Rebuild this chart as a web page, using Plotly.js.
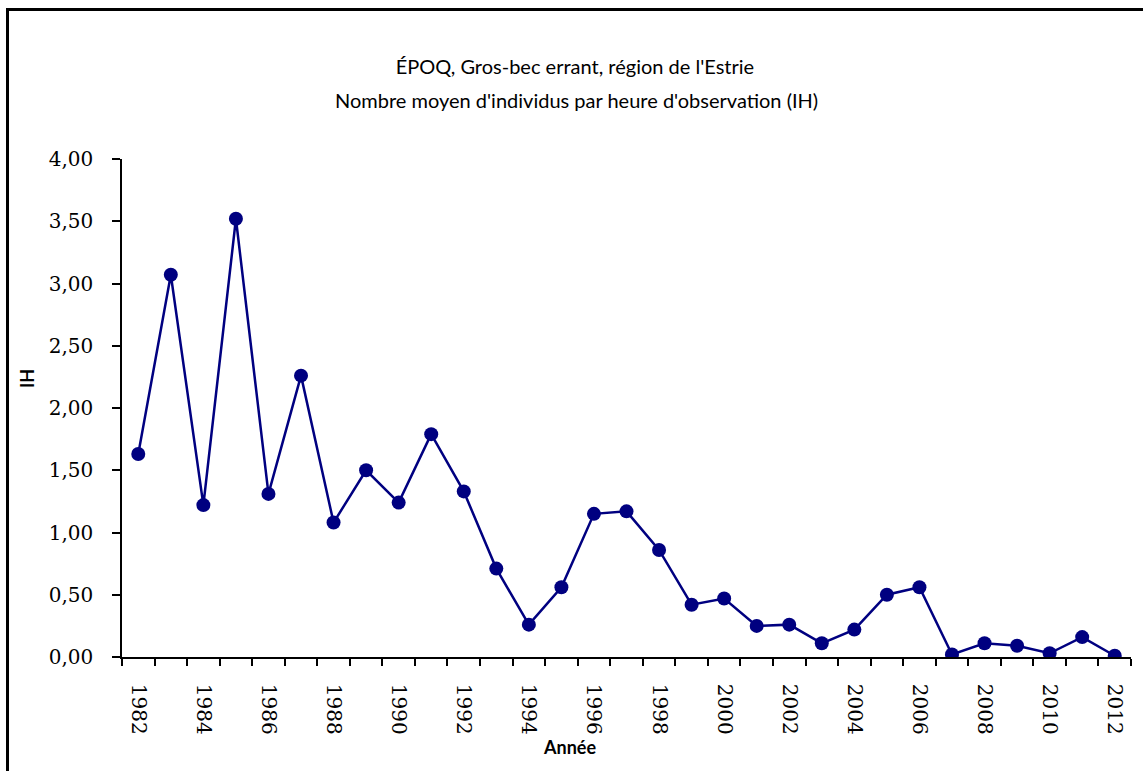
<!DOCTYPE html>
<html>
<head>
<meta charset="utf-8">
<script src="https://cdn.plot.ly/plotly-3.0.1.min.js"></script>
<style>
  html, body { margin: 0; padding: 0; background: #fff; }
  #wrap { position: relative; width: 1143px; height: 771px; overflow: hidden; }
  #frame { position: absolute; left: 6px; top: 8px; width: 1200px; height: 800px;
           border-left: 3px solid #000; border-top: 3px solid #000; box-sizing: border-box; pointer-events: none; z-index: 5; }
  #chart { position: absolute; left: 0; top: 0; width: 1143px; height: 771px; }
</style>
</head>
<body>
<div id="wrap">
  <div id="chart"></div>
  <div id="frame"></div>
</div>
<script>
const years = [1982,1983,1984,1985,1986,1987,1988,1989,1990,1991,1992,1993,1994,1995,1996,1997,1998,1999,2000,2001,2002,2003,2004,2005,2006,2007,2008,2009,2010,2011,2012];
const ih = [1.63,3.07,1.22,3.52,1.31,2.26,1.08,1.50,1.24,1.79,1.33,0.71,0.26,0.56,1.15,1.17,0.86,0.42,0.47,0.25,0.26,0.11,0.22,0.50,0.56,0.02,0.11,0.09,0.03,0.16,0.01];
const labelYears = [1982,1984,1986,1988,1990,1992,1994,1996,1998,2000,2002,2004,2006,2008,2010,2012];
const titleLine1 = "ÉPOQ, Gros-bec errant, région de l'Estrie";
const titleLine2 = "Nombre moyen d'individus par heure d'observation (IH)";
const xTitle = "Année";
const yTitle = "IH";

const boundaries = [];
for (let i = 0; i <= years.length; i++) boundaries.push(years[0] - 0.5 + i);

const trace = {
  x: years, y: ih, type: 'scatter', mode: 'lines+markers',
  line: { color: '#000080', width: 2.5 },
  marker: { color: '#000080', size: 14 },
  hoverinfo: 'x+y'
};

const titleFont = { family: 'Lato, "Open Sans", sans-serif', size: 20, color: '#000' };

const layout = {
  width: 1143, height: 771,
  margin: { l: 122, r: 12, t: 159, b: 114 },
  paper_bgcolor: '#fff', plot_bgcolor: '#fff',
  separators: ', ',
  showlegend: false,
  title: { text: titleLine1, font: titleFont, x: 0.503, xref: 'container', xanchor: 'center', y: 1 - 67/771, yref: 'container', yanchor: 'middle' },
  xaxis: {
    range: [years[0] - 0.5, years[years.length - 1] + 0.5],
    showline: true, linecolor: '#000', linewidth: 1.5,
    showgrid: false, zeroline: false,
    tickmode: 'array', tickvals: labelYears, ticktext: labelYears.map(String),
    ticks: '', tickangle: 90,
    ticklabelstandoff: 21,
    tickfont: { family: '"DejaVu Serif", serif', size: 20, color: '#000' },
    minor: { tickmode: 'array', tickvals: boundaries, ticks: 'outside', ticklen: 7, tickwidth: 1.5, tickcolor: '#000', showgrid: false }
  },
  yaxis: {
    range: [0, 4], tickvals: [0,0.5,1,1.5,2,2.5,3,3.5,4], tickformat: '.2f',
    showline: true, linecolor: '#000', linewidth: 1.5,
    showgrid: false, zeroline: false,
    ticks: 'outside', ticklen: 8, tickwidth: 1.5, tickcolor: '#000',
    ticklabelstandoff: 15,
    tickfont: { family: '"DejaVu Serif", serif', size: 20, color: '#000' }
  },
  annotations: [
    { text: titleLine2, xref: 'paper', yref: 'paper', x: (576 - 122) / 1009, y: (657 - 100) / 498, xanchor: 'center', yanchor: 'middle', showarrow: false, font: titleFont },
    { text: '<b>' + xTitle + '</b>', xref: 'paper', yref: 'paper', x: (569 - 122) / 1009, y: (657 - 747) / 498, xanchor: 'center', yanchor: 'middle', showarrow: false, font: { family: 'Lato, "Open Sans", sans-serif', size: 18, color: '#000' } },
    { text: '<b>' + yTitle + '</b>', xref: 'paper', yref: 'paper', x: (27 - 122) / 1009, y: (657 - 379) / 498, xanchor: 'center', yanchor: 'middle', textangle: -90, showarrow: false, font: { family: 'Lato, "Open Sans", sans-serif', size: 18, color: '#000' } }
  ]
};

Plotly.newPlot('chart', [trace], layout, { displayModeBar: false, staticPlot: false });
</script>
</body>
</html>
